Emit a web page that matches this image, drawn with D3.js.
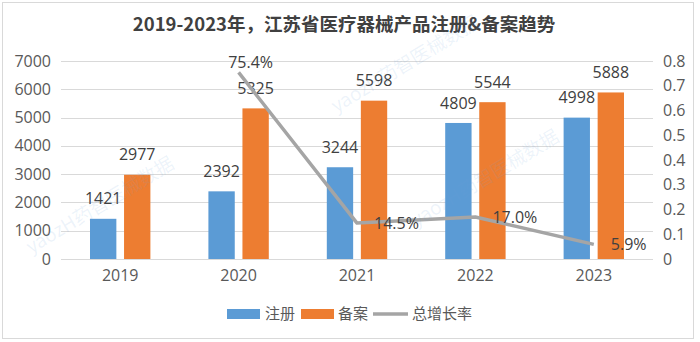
<!DOCTYPE html>
<html><head><meta charset="utf-8">
<script src="https://cdn.jsdelivr.net/npm/d3@7"></script>
<style>
html,body{margin:0;padding:0;background:#fff;}
svg{display:block;font-family:"Open Sans","Noto Sans CJK SC",sans-serif;}
</style></head>
<body>
<svg id="chart" width="700" height="342"></svg>
<script>
const years = ["2019","2020","2021","2022","2023"];
const registered = [1421, 2392, 3244, 4809, 4998];
const filed = [2977, 5325, 5598, 5544, 5888];
const growth = [null, 0.754, 0.145, 0.170, 0.059];
const growthLabels = ["", "75.4%", "14.5%", "17.0%", "5.9%"];
const leftTicks = [0,1000,2000,3000,4000,5000,6000,7000];
const rightTicks = [0,0.1,0.2,0.3,0.4,0.5,0.6,0.7,0.8];
const seriesNames = ["注册","备案","总增长率"];
const chartTitle = "2019-2023年，江苏省医疗器械产品注册&备案趋势";

(function(){
const svg = d3.select("#chart");
const pL = 61, pR = 653, pT = 61, pB = 259;
const colors = {"注册":"#5B9BD5","备案":"#ED7D31","总增长率":"#A5A5A5"};
const textColor = "#595959";
const numFont = '"Open Sans","Noto Sans CJK SC",sans-serif';
const cjkFont = '"Noto Sans CJK SC",sans-serif';

svg.append("rect").attr("x",2.5).attr("y",2.5).attr("width",691).attr("height",336)
  .attr("fill","#fff").attr("stroke","#d9d9d9").attr("stroke-width",1);

const x = d3.scaleBand().domain(years).range([pL,pR]).padding(0);
const groupW = x.bandwidth()*0.51;
const x1 = d3.scaleBand().domain(["注册","备案"]).range([0,groupW]).paddingInner(0.226).paddingOuter(0);
const y = d3.scaleLinear().domain([0,7000]).range([pB,pT]);
const y2 = d3.scaleLinear().domain([0,0.8]).range([pB,pT]);

svg.append("g").selectAll("line").data(leftTicks).join("line")
  .attr("x1",pL).attr("x2",pR)
  .attr("y1",d=>Math.round(y(d))+0.5).attr("y2",d=>Math.round(y(d))+0.5)
  .attr("stroke","#d9d9d9").attr("stroke-width",1);

const gL = svg.append("g").attr("transform",`translate(${pL-10},0)`)
  .call(d3.axisLeft(y).tickValues(leftTicks).tickSize(0).tickPadding(0).tickFormat(d3.format("d")));
gL.select(".domain").remove();
gL.selectAll("text").attr("fill",textColor).style("font-size","16px").style("font-family",numFont);

const gR = svg.append("g").attr("transform",`translate(${pR+10},0)`)
  .call(d3.axisRight(y2).tickValues(rightTicks).tickSize(0).tickPadding(0).tickFormat(d=>d===0?"0":d3.format(".1f")(d)));
gR.select(".domain").remove();
gR.selectAll("text").attr("fill",textColor).style("font-size","16px").style("font-family",numFont);

const gX = svg.append("g").attr("transform",`translate(0,${pB+11})`)
  .call(d3.axisBottom(x).tickSize(0).tickPadding(0));
gX.select(".domain").remove();
gX.selectAll("text").attr("fill",textColor).style("font-size","16px").style("font-family",numFont);

const barData = [];
years.forEach((yr,i)=>{
  barData.push({yr, s:"注册", v:registered[i]});
  barData.push({yr, s:"备案", v:filed[i]});
});
const gx0 = yr => x(yr) + (x.bandwidth()-groupW)/2;
svg.append("g").selectAll("rect").data(barData).join("rect")
  .attr("x",d=>gx0(d.yr)+x1(d.s)).attr("width",x1.bandwidth())
  .attr("y",d=>y(d.v)).attr("height",d=>y(0)-y(d.v))
  .attr("fill",d=>colors[d.s]);

svg.append("g").selectAll("text").data(barData).join("text")
  .attr("x",d=>gx0(d.yr)+x1(d.s)+x1.bandwidth()/2)
  .attr("y",d=>y(d.v)-20).attr("dy","0.35em")
  .attr("text-anchor","middle").attr("fill","#404040").style("font-size","16px").style("font-family",numFont)
  .text(d=>d.v);

const lineData = years.map((yr,i)=>({yr, v:growth[i], label:growthLabels[i]})).filter(d=>d.v!==null);
const line = d3.line().x(d=>x(d.yr)+x.bandwidth()/2).y(d=>y2(d.v));
svg.append("path").datum(lineData).attr("d",line)
  .attr("fill","none").attr("stroke",colors["总增长率"]).attr("stroke-width",3.5).attr("stroke-linejoin","round");

svg.append("g").selectAll("text").data(lineData).join("text")
  .attr("x",(d,k)=> k===0 ? x(d.yr)+x.bandwidth()/2+12 : x(d.yr)+x.bandwidth()/2+17)
  .attr("y",(d,k)=> k===0 ? y2(d.v)-10 : y2(d.v))
  .attr("dy","0.35em")
  .attr("text-anchor",(d,k)=> k===0 ? "middle" : "start")
  .attr("fill","#404040").style("font-size","16px").style("font-family",numFont)
  .text(d=>d.label);

svg.append("text").attr("x",344).attr("y",25).attr("dy","0.35em")
  .attr("text-anchor","middle").attr("fill","#404040")
  .style("font-size","18.5px").style("font-weight","bold").style("font-family",cjkFont)
  .text(chartTitle);

const lg = svg.append("g");
const ly = 314;
lg.append("rect").attr("x",227).attr("y",ly-5).attr("width",33).attr("height",10).attr("fill",colors["注册"]);
lg.append("text").attr("x",265).attr("y",ly).attr("dy","0.35em").attr("fill",textColor).style("font-size","15px").style("font-family",cjkFont).text(seriesNames[0]);
lg.append("rect").attr("x",301).attr("y",ly-5).attr("width",33).attr("height",10).attr("fill",colors["备案"]);
lg.append("text").attr("x",338).attr("y",ly).attr("dy","0.35em").attr("fill",textColor).style("font-size","15px").style("font-family",cjkFont).text(seriesNames[1]);
lg.append("line").attr("x1",373).attr("x2",408).attr("y1",ly).attr("y2",ly).attr("stroke",colors["总增长率"]).attr("stroke-width",3.5);
lg.append("text").attr("x",412).attr("y",ly).attr("dy","0.35em").attr("fill",textColor).style("font-size","15px").style("font-family",cjkFont).text(seriesNames[2]);

const wmText = "yaozH药智医械数据";
const wm = [[100,205],[405,64],[485,178]];
const wg = svg.append("g").attr("pointer-events","none");
wm.forEach(p=>{
  wg.append("text").attr("transform",`translate(${p[0]},${p[1]}) rotate(-31)`)
    .attr("text-anchor","middle").attr("dy","0.35em")
    .attr("fill","#6fa0dc").attr("fill-opacity",0.13)
    .style("font-size","19px").style("font-family",cjkFont)
    .text(wmText);
});
})();
</script>
</body></html>
